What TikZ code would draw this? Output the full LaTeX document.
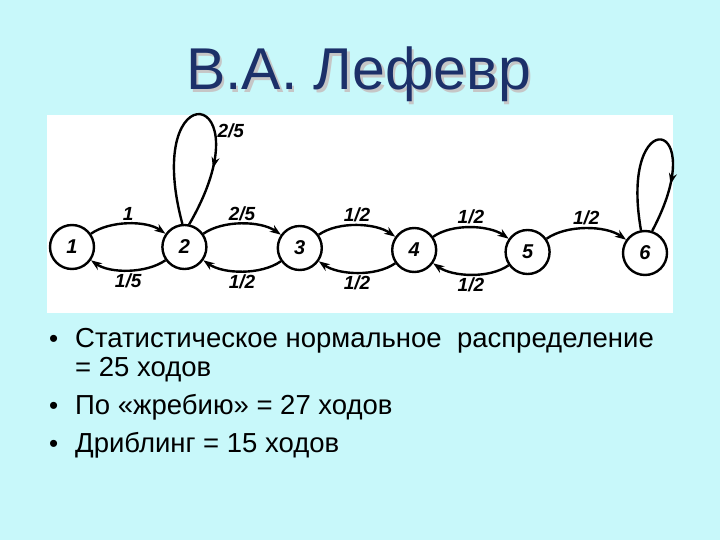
\documentclass[tikz,border=0pt]{standalone}
\usepackage{fontspec}
\setmainfont{Liberation Sans}
\usetikzlibrary{positioning,arrows.meta,decorations.markings}
\definecolor{slidebg}{RGB}{200,248,250}
\definecolor{titleblue}{RGB}{28,48,105}
\tikzset{state/.style={draw,circle,line width=2.4pt,minimum size=44pt,inner sep=0pt,font=\fontsize{20}{20}\selectfont\bfseries\itshape}}
\tikzset{prob/.style={font=\fontsize{19}{19}\selectfont\bfseries\itshape,inner sep=2pt}}
\tikzset{link/.style={line width=2.4pt,-{Stealth[length=11pt,width=8pt]}}}
\tikzset{fwd/.style={link,out=35,in=145,looseness=0.8}}
\tikzset{bwd/.style={link,out=-145,in=-35,looseness=0.8}}
\tikzset{selfloop/.style={line width=2.4pt,postaction={decorate},decoration={markings,mark=at position 0.75 with {\arrow{Stealth[length=11pt,width=8pt]}}}}}
\tikzset{bullet/.style={anchor=base west,inner sep=0pt,font=\fontsize{27.5}{30}\selectfont}}
\tikzset{dot/.style={anchor=base west,inner sep=0pt,font=\fontsize{26}{26}\selectfont}}
\tikzset{headline/.style={anchor=base,inner sep=0pt,font=\fontsize{59}{59}\selectfont}}

\begin{document}
\begin{tikzpicture}[x=1pt,y=-1pt]
        \fill[slidebg] (0,0) rectangle (720,540);
        \useasboundingbox (0,0) rectangle (720,540);
        % title
        \node[headline,text=gray!45] (shadow) at (361,92.5) {В.А. Лефевр};
        \node[headline,text=titleblue] (title) at (358.5,90) {В.А. Лефевр};
        % diagram
        \fill[white] (47,115) rectangle (673,313);
        \node[state] (s1) at (72,247) {1};
        \node[state,right=66pt of s1] (s2) {2};
        \node[state,right=69pt of s2,yshift=-1pt] (s3) {3};
        \node[state,right=68pt of s3,yshift=-2pt] (s4) {4};
        \node[state,right=67pt of s4,yshift=-2pt] (s5) {5};
        \node[state,right=71pt of s5,yshift=-1pt] (s6) {6};
            \draw[fwd] (s1) to node[prob,above] {1} (s2);
            \draw[bwd] (s2) to node[prob,below] {1/5} (s1);
            \draw[fwd] (s2) to node[prob,above] {2/5} (s3);
            \draw[bwd] (s3) to node[prob,below] {1/2} (s2);
            \draw[fwd] (s3) to node[prob,above] {1/2} (s4);
            \draw[bwd] (s4) to node[prob,below] {1/2} (s3);
            \draw[fwd] (s4) to node[prob,above] {1/2} (s5);
            \draw[bwd] (s5) to node[prob,below] {1/2} (s4);
            \draw[fwd] (s5) to node[prob,above] {1/2} (s6);
            \draw[selfloop] (s2.95) to[out=105,in=60,distance=160pt] node[prob,pos=0.68,right] {2/5} (s2.78);
            \draw[selfloop] (s6.100) to[out=100,in=62,distance=130pt] (s6.72);
        % bullets
        \node[dot] (b1) at (49,347) {•};
        \node[bullet] (t1) at (75,347) {Статистическое нормальное\ \ распределение};
        \node[bullet] (t1b) at (75,376) {= 25 ходов};
        \node[dot] (b2) at (49,414) {•};
        \node[bullet] (t2) at (75,414) {По «жребию» = 27 ходов};
        \node[dot] (b3) at (49,452) {•};
        \node[bullet] (t3) at (75,452) {Дриблинг = 15 ходов};
    \end{tikzpicture}
\end{document}
